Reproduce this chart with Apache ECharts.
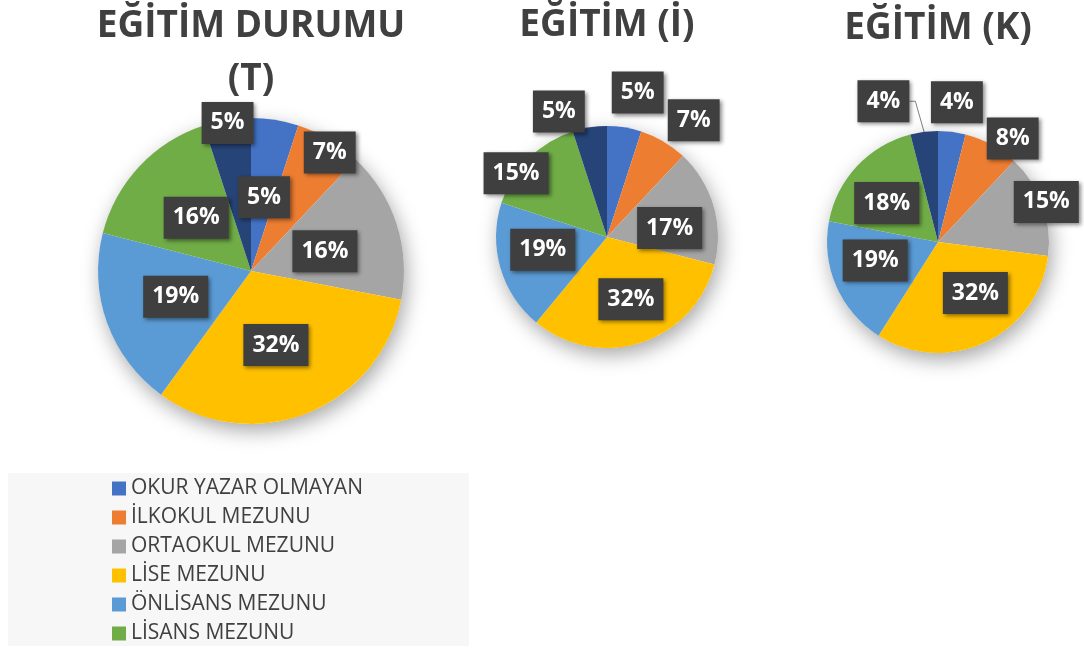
<!DOCTYPE html>
<html>
<head>
<meta charset="utf-8">
<title>EĞİTİM DURUMU</title>
<script src="https://cdn.jsdelivr.net/npm/echarts@6.0.0/dist/echarts.min.js"></script>
<style>
  html, body { margin: 0; padding: 0; background: #fff; }
  #chart { width: 1084px; height: 648px; }
</style>
</head>
<body>
<div id="chart"></div>
<script>
// kategoriler (son dilim legend'da görünmüyor)
const categories = [
  'OKUR YAZAR OLMAYAN',
  'İLKOKUL MEZUNU',
  'ORTAOKUL MEZUNU',
  'LİSE MEZUNU',
  'ÖNLİSANS MEZUNU',
  'LİSANS MEZUNU',
  'YÜKSEK LİSANS MEZUNU'
];
const legendNames = categories.slice(0, 6);

// yüzde değerleri
const valuesT = [5, 7, 16, 32, 19, 16, 5];
const valuesI = [5, 7, 17, 32, 19, 15, 5];
const valuesK = [4, 8, 15, 32, 19, 18, 4];

const titles = ['EĞİTİM DURUMU\n(T)', 'EĞİTİM (İ)', 'EĞİTİM (K)'];

const colors = ['#4472C4', '#ED7D31', '#A5A5A5', '#FFC000', '#5B9BD5', '#70AD47', '#264478'];

// label placement: [radius factor, angle shift in degrees] per slice
const spotsT = [[0.49, 1], [0.93, 3], [0.5, 3], [0.51, 3], [0.52, 1], [0.5, 1], [0.98, 0]];
const spotsI = [[1.33, 3], [1.31, 6], [0.57, 8], [0.6, -3], [0.59, 5], [1.0, -10], [1.21, -12]];
const spotsK = [[1.27, 0.5], [1.15, 7], [1.04, -0.5], [0.57, -11], [0.59, 7], [0.58, -6], [1.36, -14]];

const pies = [
  { values: valuesT, spots: spotsT, center: [251, 271], radius: 153, titleTop: 0 },
  { values: valuesI, spots: spotsI, center: [607, 237], radius: 111, titleTop: -1 },
  { values: valuesK, spots: spotsK, center: [938, 242], radius: 111, titleTop: 2 }
];

const chart = echarts.init(document.getElementById('chart'));

function layoutFor(pie) {
  const total = pie.values.reduce((a, b) => a + b, 0);
  const mids = [];
  let acc = 0;
  pie.values.forEach(v => {
    mids.push((acc + v / 2) / total * 360);
    acc += v;
  });
  return function (params) {
    const s = pie.spots[params.dataIndex];
    const a = (mids[params.dataIndex] + s[1]) * Math.PI / 180;
    return {
      x: pie.center[0] + Math.sin(a) * pie.radius * s[0],
      y: pie.center[1] - Math.cos(a) * pie.radius * s[0],
      align: 'center',
      verticalAlign: 'middle'
    };
  };
}

const labelStyle = {
  show: true,
  position: 'inside',
  formatter: '{d}%',
  color: '#fff',
  fontFamily: 'Open Sans',
  fontWeight: 'bold',
  fontSize: 23,
  lineHeight: 24,
  backgroundColor: '#3f3f3f',
  padding: [9, 9],
  shadowColor: 'rgba(0,0,0,0.45)',
  shadowBlur: 4,
  shadowOffsetX: 2,
  shadowOffsetY: 2
};

const series = [];
pies.forEach((pie, idx) => {
  const total = pie.values.reduce((a, b) => a + b, 0);
  // soft shadow disk behind the pie
  series.push({
    type: 'pie',
    silent: true,
    center: pie.center,
    radius: pie.radius,
    label: { show: false },
    labelLine: { show: false },
    itemStyle: {
      color: '#fff',
      shadowColor: 'rgba(0,0,0,0.35)',
      shadowBlur: 20,
      shadowOffsetX: 3,
      shadowOffsetY: 7
    },
    data: [{ value: total, name: 'shadow' + idx }]
  });
  series.push({
    type: 'pie',
    center: pie.center,
    radius: pie.radius,
    startAngle: 90,
    clockwise: true,
    avoidLabelOverlap: false,
    emphasis: { disabled: true },
    label: labelStyle,
    labelLine: { show: false },
    labelLayout: layoutFor(pie),
    data: pie.values.map((v, i) => {
      const item = { value: v, name: categories[i], itemStyle: { color: colors[i] } };
      // leader line for the small dark slice of the last pie
      if (idx === 2 && i === 6) {
        item.label = { position: 'outside' };
        item.labelLine = { show: true, length: 8, length2: 6, lineStyle: { color: '#7f7f7f', width: 1 } };
      }
      return item;
    })
  });
});

chart.setOption({
  backgroundColor: '#fff',
  color: colors,
  title: pies.map((pie, i) => ({
    text: titles[i],
    left: pie.center[0],
    top: pie.titleTop,
    textAlign: 'center',
    padding: 0,
    textStyle: {
      color: '#404040',
      fontFamily: 'Open Sans',
      fontWeight: 'bold',
      fontSize: 37,
      lineHeight: 53
    }
  })),
  legend: {
    data: legendNames,
    orient: 'vertical',
    left: 8,
    top: 473,
    padding: [5, 106, 2, 104],
    backgroundColor: '#f7f7f7',
    icon: 'rect',
    itemWidth: 14,
    itemHeight: 14,
    itemGap: 8,
    selectedMode: false,
    textStyle: {
      color: '#404040',
      fontFamily: 'Open Sans',
      fontSize: 21,
      lineHeight: 21
    }
  },
  series: series
});
</script>
</body>
</html>
